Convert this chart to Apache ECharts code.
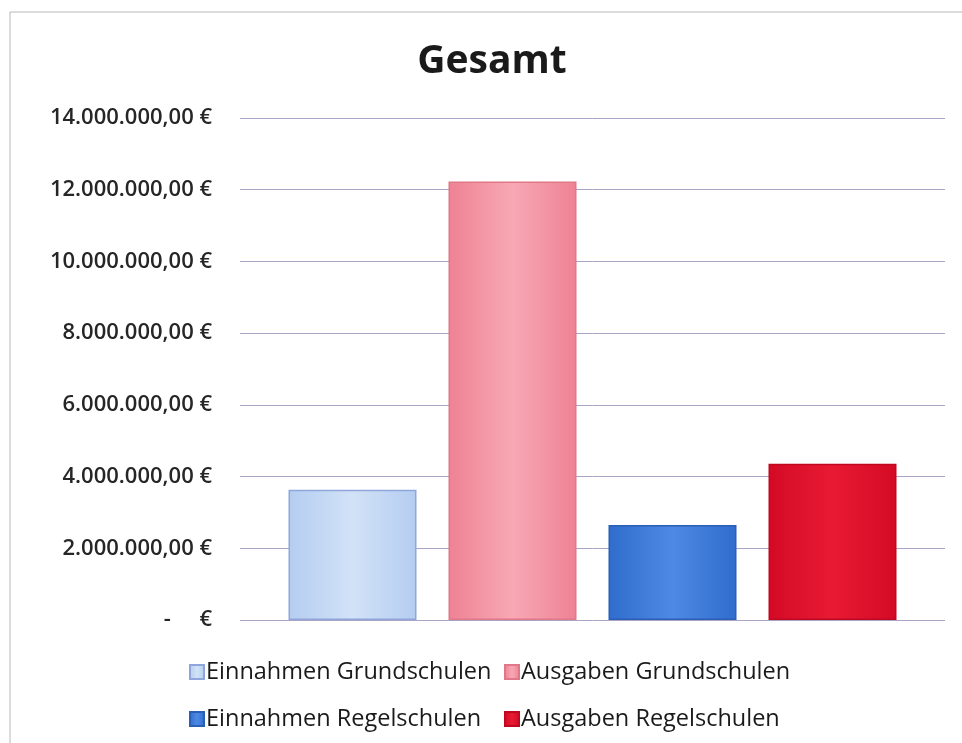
<!DOCTYPE html>
<html><head><meta charset="utf-8">
<script src="https://cdn.jsdelivr.net/npm/echarts@6/dist/echarts.min.js"></script>
<style>html,body{margin:0;padding:0;background:#fff}#c{width:962px;height:743px}</style>
</head><body><div id="c"></div>
<script>
const categories = ['Gesamt'];
const seriesNames = ['Einnahmen Grundschulen','Ausgaben Grundschulen','Einnahmen Regelschulen','Ausgaben Regelschulen'];
const einnahmenGrundschulen = [3630000];
const ausgabenGrundschulen = [12230000];
const einnahmenRegelschulen = [2650000];
const ausgabenRegelschulen = [4360000];
const yTicks = [0,2000000,4000000,6000000,8000000,10000000,12000000,14000000];

const values = [einnahmenGrundschulen, ausgabenGrundschulen, einnahmenRegelschulen, ausgabenRegelschulen];
const fills = [
  ['#d2e2f8','#b4cdf0'],
  ['#f8a8b4','#ee8294'],
  ['#4e8ae4','#2f6ccc'],
  ['#e81a34','#d40a24']
];
const borders = ['#8fa6dc','#e07888','#2a5fb8','#c00820'];

function fmt(v){
  if (v === 0) return '-     €';
  const s = Math.round(v).toString().replace(/\B(?=(\d{3})+(?!\d))/g,'.');
  return s + ',00 €';
}

const legendPos = [[184,655],[499,655],[184,702],[499,702]];

const chart = echarts.init(document.getElementById('c'));
chart.setOption({
  backgroundColor:'#fff',
  animation:false,
  graphic:[{type:'rect',shape:{x:10,y:12,width:960,height:740},style:{fill:'none',stroke:'#b8b8b8',lineWidth:1}}],
  title:{text:'Gesamt',left:487,textAlign:'center',top:37,textStyle:{fontFamily:'Open Sans',fontWeight:'bold',fontSize:39,color:'#1a1a1a'}},
  grid:{left:240,right:17,top:118,bottom:123},
  xAxis:{type:'category',data:categories,axisLine:{show:false},axisTick:{show:false},axisLabel:{show:false}},
  yAxis:{type:'value',min:0,max:14000000,interval:2000000,
    axisLine:{show:false},axisTick:{show:false},
    splitLine:{lineStyle:{color:'#a9a3c4',width:1}},
    axisLabel:{formatter:fmt,margin:28,fontFamily:'Open Sans',fontSize:22,fontWeight:600,color:'#262626'}},
  legend: seriesNames.map((n,i)=>({data:[n],left:legendPos[i][0],top:legendPos[i][1],icon:'rect',itemWidth:14,itemHeight:14,itemGap:4,
     textStyle:{fontFamily:'Open Sans',fontSize:23.5,color:'#1a1a1a',padding:[0,0,0,-3]}})),
  series: seriesNames.map((n,i)=>({
    name:n,type:'bar',data:values[i],barWidth:128,barGap:'25%',
    itemStyle:{color:new echarts.graphic.LinearGradient(0,0,1,0,[{offset:0,color:fills[i][1]},{offset:0.5,color:fills[i][0]},{offset:1,color:fills[i][1]}]),
      borderColor:borders[i],borderWidth:1.5}
  }))
});
</script></body></html>
